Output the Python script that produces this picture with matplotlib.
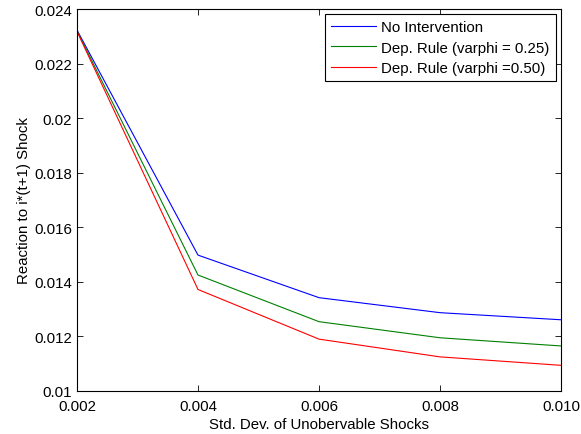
import numpy as np
import matplotlib.pyplot as plt
from matplotlib.ticker import FuncFormatter, FormatStrFormatter

plt.rcParams['font.family'] = ['Liberation Sans', 'DejaVu Sans']
plt.rcParams['font.size'] = 10.8

# Datos
std_dev = [0.002, 0.004, 0.006, 0.008, 0.010]
no_interv = [0.02323, 0.01498, 0.01342, 0.01287, 0.01261]
dep_025 = [0.02320, 0.01425, 0.01254, 0.01195, 0.01165]
dep_050 = [0.02318, 0.01372, 0.01190, 0.01125, 0.01094]

fig = plt.figure(figsize=(5.81, 4.35), dpi=100)
ax = fig.add_axes([0.1325, 0.0989, 0.8331, 0.8781])

ax.plot(std_dev, no_interv, color='#0000ff', lw=0.8, label='No Intervention')
ax.plot(std_dev, dep_025, color='#008000', lw=0.8, label='Dep. Rule (varphi = 0.25)')
ax.plot(std_dev, dep_050, color='#ff0000', lw=0.8, label='Dep. Rule (varphi =0.50)')

ax.set_xlim(0.002, 0.010)
ax.set_ylim(0.01, 0.024)
ax.set_xticks(np.arange(0.002, 0.0101, 0.002))
ax.set_yticks(np.arange(0.010, 0.0241, 0.002))
ax.xaxis.set_major_formatter(FormatStrFormatter('%.3f'))
ax.yaxis.set_major_formatter(FuncFormatter(lambda v, p: '%g' % round(v, 4)))
ax.tick_params(direction='in', top=True, right=True, length=4, width=0.6, labelsize=10.8)
ax.tick_params(axis='x', pad=6)
for s in ax.spines.values():
    s.set_linewidth(0.8)

ax.set_xlabel('Std. Dev. of Unobervable Shocks', labelpad=2.5)
ax.set_ylabel('Reaction to i*(t+1) Shock', labelpad=2.5)

leg = ax.legend(loc='upper right', fancybox=False, framealpha=1, edgecolor='black',
                borderaxespad=0.35, handlelength=3.0, handletextpad=0.35,
                labelspacing=0.42, borderpad=0.4, fontsize=10.8)
leg.get_frame().set_linewidth(0.8)

plt.savefig('out.png', dpi=100)
